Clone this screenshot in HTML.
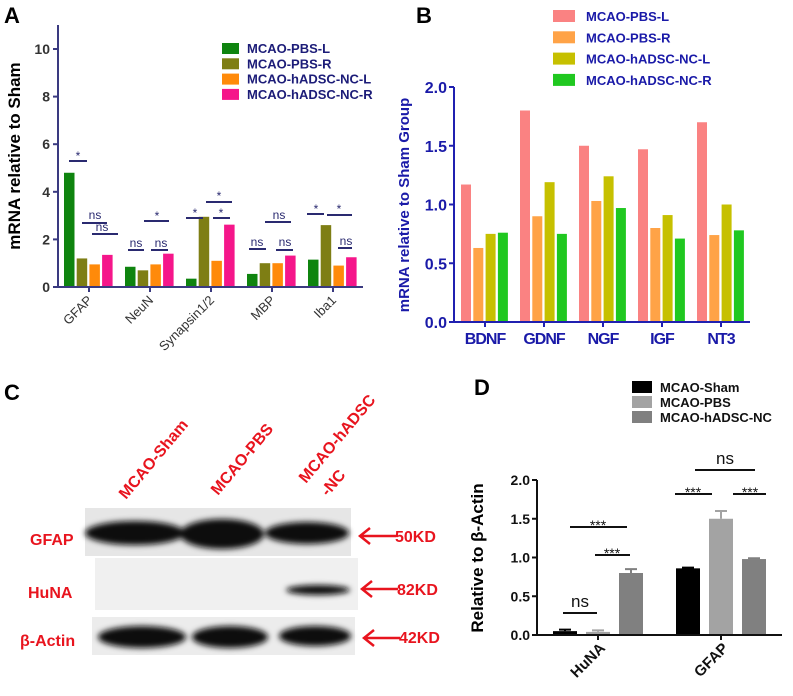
<!DOCTYPE html>
<html><head><meta charset="utf-8"><style>
html,body{margin:0;padding:0;background:#fff;}
svg{display:block;font-family:"Liberation Sans",Arial,sans-serif;}
</style></head><body>
<svg id="fig" width="793" height="696" viewBox="0 0 793 696" xmlns="http://www.w3.org/2000/svg">
<defs>
<filter id="blur2" x="-20%" y="-50%" width="140%" height="200%"><feGaussianBlur stdDeviation="3"/></filter>
</defs>
<text x="4" y="23" font-size="22" font-weight="bold">A</text>
<text x="416" y="23" font-size="22" font-weight="bold">B</text>
<text x="4" y="400" font-size="22" font-weight="bold">C</text>
<text x="474" y="395" font-size="22" font-weight="bold">D</text>

<g id="panelA"></g>
<g id="panelB"></g>
<g id="panelD"></g>

<text transform="translate(20,156) rotate(-90)" text-anchor="middle" font-size="17" font-weight="bold">mRNA relative to Sham</text>
<text transform="translate(409,205) rotate(-90)" text-anchor="middle" font-size="15" font-weight="bold" fill="#1a1aa8">mRNA relative to Sham Group</text>
<text transform="translate(483,558) rotate(-90)" text-anchor="middle" font-size="17" font-weight="bold">Relative to β-Actin</text>

<g stroke="#2a2a70" stroke-width="2">
<line x1="69" y1="161" x2="87" y2="161"/><line x1="82" y1="223" x2="107" y2="223"/><line x1="92" y1="234" x2="118" y2="234"/>
<line x1="128" y1="250" x2="144" y2="250"/><line x1="144" y1="221" x2="169" y2="221"/><line x1="151" y1="250" x2="168" y2="250"/>
<line x1="186" y1="218" x2="203" y2="218"/><line x1="206" y1="202" x2="232" y2="202"/><line x1="213" y1="218" x2="230" y2="218"/>
<line x1="249" y1="249" x2="266" y2="249"/><line x1="265" y1="222" x2="291" y2="222"/><line x1="276" y1="250" x2="293" y2="250"/>
<line x1="307" y1="214" x2="324" y2="214"/><line x1="327" y1="215" x2="352" y2="215"/><line x1="338" y1="248" x2="352" y2="248"/>
</g>
<g font-size="12" fill="#2a2a70" text-anchor="middle">
<text x="78" y="160">*</text><text x="95" y="219">ns</text><text x="102" y="231">ns</text>
<text x="136" y="247">ns</text><text x="157" y="220">*</text><text x="161" y="247">ns</text>
<text x="195" y="217">*</text><text x="219" y="200">*</text><text x="221" y="217">*</text>
<text x="257" y="246">ns</text><text x="279" y="219">ns</text><text x="285" y="246">ns</text>
<text x="316" y="213">*</text><text x="339" y="213">*</text><text x="346" y="245">ns</text>
</g>

<g>
<g font-size="16" font-weight="bold" fill="#e8141e">
<text transform="translate(126,500) rotate(-50)">MCAO-Sham</text>
<text transform="translate(218,496) rotate(-50)">MCAO-PBS</text>
<text transform="translate(306,484) rotate(-50)">MCAO-hADSC</text>
<text transform="translate(328,497) rotate(-50)">-NC</text>
</g>
<rect x="85" y="508" width="266" height="48" fill="#e6e6e6"/>
<rect x="95" y="558" width="263" height="52" fill="#f0f0f0"/>
<rect x="92" y="617" width="263" height="38" fill="#ececec"/>
<g filter="url(#blur2)" fill="#111">
<ellipse cx="135" cy="533" rx="50" ry="12"/>
<ellipse cx="222" cy="534" rx="42" ry="15"/>
<ellipse cx="307" cy="533" rx="42" ry="11"/>
<ellipse cx="318" cy="590" rx="32" ry="5"/>
<ellipse cx="142" cy="637" rx="44" ry="11"/>
<ellipse cx="230" cy="637" rx="38" ry="11"/>
<ellipse cx="315" cy="636" rx="36" ry="10"/>
</g>
<g font-size="16" font-weight="bold" fill="#e8141e">
<text x="30" y="545">GFAP</text>
<text x="28" y="598">HuNA</text>
<text x="20" y="646">β-Actin</text>
<text x="395" y="542">50KD</text>
<text x="397" y="595">82KD</text>
<text x="399" y="643">42KD</text>
</g>
<g stroke="#e8141e" stroke-width="2.5" fill="none">
<path d="M396 536 H360 M370 528 L360 536 L370 544"/>
<path d="M398 589 H362 M372 581 L362 589 L372 597"/>
<path d="M400 638 H364 M374 630 L364 638 L374 646"/>
</g>
</g>

<g stroke="#111" stroke-width="2">
<line x1="563" y1="613" x2="597" y2="613"/><line x1="570" y1="527" x2="627" y2="527"/><line x1="595" y1="555" x2="630" y2="555"/>
<line x1="675" y1="494" x2="712" y2="494"/><line x1="733" y1="494" x2="766" y2="494"/><line x1="695" y1="470" x2="755" y2="470"/>
</g>
<g font-size="14" fill="#111" text-anchor="middle">
<text x="580" y="607" font-size="17">ns</text><text x="598" y="530">***</text><text x="612" y="558">***</text>
<text x="693" y="497">***</text><text x="750" y="497">***</text><text x="725" y="464" font-size="17">ns</text>
</g>

<script>
const aCategories = ["GFAP","NeuN","Synapsin1/2","MBP","Iba1"];
const aSeriesNames = ["MCAO-PBS-L","MCAO-PBS-R","MCAO-hADSC-NC-L","MCAO-hADSC-NC-R"];
const aPbsL = [4.8,0.85,0.35,0.55,1.15];
const aPbsR = [1.2,0.7,2.95,1.0,2.6];
const aHadscL = [0.95,0.95,1.1,1.0,0.9];
const aHadscR = [1.35,1.4,2.62,1.32,1.25];
const aTicks = [0,2,4,6,8,10];

const bCategories = ["BDNF","GDNF","NGF","IGF","NT3"];
const bSeriesNames = ["MCAO-PBS-L","MCAO-PBS-R","MCAO-hADSC-NC-L","MCAO-hADSC-NC-R"];
const bPbsL = [1.17,1.8,1.5,1.47,1.7];
const bPbsR = [0.63,0.9,1.03,0.8,0.74];
const bHadscL = [0.75,1.19,1.24,0.91,1.0];
const bHadscR = [0.76,0.75,0.97,0.71,0.78];
const bTicks = ["0.0","0.5","1.0","1.5","2.0"];

const dCategories = ["HuNA","GFAP"];
const dSeriesNames = ["MCAO-Sham","MCAO-PBS","MCAO-hADSC-NC"];
const dSham = [0.05,0.86];
const dPbs = [0.04,1.5];
const dHadsc = [0.8,0.98];
const dShamErr = [0.02,0.01];
const dPbsErr = [0.02,0.1];
const dHadscErr = [0.05,0.01];
const dTicks = ["0.0","0.5","1.0","1.5","2.0"];

const NS="http://www.w3.org/2000/svg";
function mk(parent,tag,attrs,txt){const e=document.createElementNS(NS,tag);for(const k in attrs)e.setAttribute(k,attrs[k]);if(txt!==undefined)e.textContent=txt;parent.appendChild(e);return e;}

(function(){
const g=document.getElementById('panelA');
const x0=58,y0=287,yTop=25,xEnd=363,perUnit=23.8;
const yA=v=>y0-v*perUnit;
const xA=(ci,si)=>64+ci*61+si*12.7;
const series=[aPbsL,aPbsR,aHadscL,aHadscR];
const colors=["#0f840f","#7e7e14","#ff8a0a","#f5168a"];
series.forEach((vals,si)=>{vals.forEach((v,ci)=>{
 const r=mk(g,'rect',{x:xA(ci,si),y:yA(v),width:10.5,height:y0-yA(v),fill:colors[si]});
 
 
});});
const ax=mk(g,'path',{d:`M${x0} ${yTop} V${y0} H${xEnd}`,stroke:'#3a3a80','stroke-width':2,fill:'none'});


aTicks.forEach(t=>{
 mk(g,'line',{x1:x0-5,x2:x0,y1:yA(t),y2:yA(t),stroke:'#3a3a80','stroke-width':2});
 const tl=mk(g,'text',{x:x0-8,y:yA(t)+5,'text-anchor':'end','font-size':14,'font-weight':'bold',fill:'#333'},String(t));
 
 
});
aCategories.forEach((c,ci)=>{
 const cx=xA(ci,0)+25;
 mk(g,'line',{x1:cx,x2:cx,y1:y0,y2:y0+5,stroke:'#3a3a80','stroke-width':2});
 const tl=mk(g,'text',{transform:`translate(${cx+4},${y0+14}) rotate(-45)`,'text-anchor':'end','font-size':13,fill:'#333'},c);
 
 
});
aSeriesNames.forEach((n,si)=>{
 const y=43+si*15.3;
 const sw=mk(g,'rect',{x:222,y:y,width:17,height:11,fill:colors[si]});
 
 
 const tx=mk(g,'text',{x:247,y:y+10,'font-size':13,'font-weight':'bold',fill:'#1c1c78'},n);
 
 
});
})();

(function(){
const g=document.getElementById('panelB');
const x0=454,y0=322,xEnd=750,perUnit=117.5;
const yB=v=>y0-v*perUnit;
const xB=(ci,si)=>461+ci*59+si*12.3;
const series=[bPbsL,bPbsR,bHadscL,bHadscR];
const colors=["#fa8282","#ffa347","#c6c000","#20c820"];
series.forEach((vals,si)=>{vals.forEach((v,ci)=>{
 const r=mk(g,'rect',{x:xB(ci,si),y:yB(v),width:10,height:y0-yB(v),fill:colors[si]});
 
 
});});
const ax=mk(g,'path',{d:`M${x0} ${yB(2)} V${y0} H${xEnd}`,stroke:'#2020b0','stroke-width':2,fill:'none'});


bTicks.forEach(t=>{
 const v=parseFloat(t);
 mk(g,'line',{x1:x0-5,x2:x0,y1:yB(v),y2:yB(v),stroke:'#2020b0','stroke-width':2});
 const tl=mk(g,'text',{x:x0-7,y:yB(v)+6,'text-anchor':'end','font-size':16,'font-weight':'bold',fill:'#1a1aa8'},t);
 
 
});
bCategories.forEach((c,ci)=>{
 const cx=xB(ci,0)+24;
 mk(g,'line',{x1:cx,x2:cx,y1:y0,y2:y0+5,stroke:'#2020b0','stroke-width':2});
 const tl=mk(g,'text',{x:cx,y:y0+22,'text-anchor':'middle','font-size':16,'font-weight':'bold',fill:'#1a1aa8','letter-spacing':'-1'},c);
 
 
});
bSeriesNames.forEach((n,si)=>{
 const y=10+si*21.3;
 const sw=mk(g,'rect',{x:553,y:y,width:22,height:12,fill:colors[si]});
 
 
 const tx=mk(g,'text',{x:586,y:y+11,'font-size':13,'font-weight':'bold',fill:'#1a1aa8'},n);
 
 
});
})();

(function(){
const g=document.getElementById('panelD');
const x0=537,y0=635,xEnd=782,perUnit=77.5;
const yD=v=>y0-v*perUnit;
const xD=(ci,si)=>553+ci*123+si*33;
const series=[dSham,dPbs,dHadsc];
const errs=[dShamErr,dPbsErr,dHadscErr];
const colors=["#000000","#a3a3a3","#808080"];
series.forEach((vals,si)=>{vals.forEach((v,ci)=>{
 const x=xD(ci,si),w=24;
 const e=v+errs[si][ci];
 const el=mk(g,'path',{d:`M${x+w/2} ${yD(v)} V${yD(e)} M${x+w/2-6} ${yD(e)} H${x+w/2+6}`,stroke:colors[si],'stroke-width':2,fill:'none'});
 
 
 const r=mk(g,'rect',{x:x,y:yD(v),width:w,height:y0-yD(v),fill:colors[si]});
 
 
});});
const ax=mk(g,'path',{d:`M${x0} ${yD(2)} V${y0} H${xEnd}`,stroke:'#111','stroke-width':2,fill:'none'});


dTicks.forEach(t=>{
 const v=parseFloat(t);
 mk(g,'line',{x1:x0-5,x2:x0,y1:yD(v),y2:yD(v),stroke:'#111','stroke-width':2});
 const tl=mk(g,'text',{x:x0-7,y:yD(v)+5,'text-anchor':'end','font-size':14,'font-weight':'bold',fill:'#111'},t);
 
 
});
dCategories.forEach((c,ci)=>{
 const cx=xD(ci,1)+12;
 mk(g,'line',{x1:cx,x2:cx,y1:y0,y2:y0+5,stroke:'#111','stroke-width':2});
 const tl=mk(g,'text',{transform:`translate(${cx+8},${y0+14}) rotate(-45)`,'text-anchor':'end','font-size':15,'font-weight':'bold',fill:'#111'},c);
 
 
});
dSeriesNames.forEach((n,si)=>{
 const y=381+si*15;
 const sw=mk(g,'rect',{x:632,y:y,width:20,height:12,fill:colors[si]});
 
 
 const tx=mk(g,'text',{x:660,y:y+11,'font-size':13,'font-weight':'bold',fill:'#111'},n);
 
 
});
})();
</script>
</svg>
</body></html>
